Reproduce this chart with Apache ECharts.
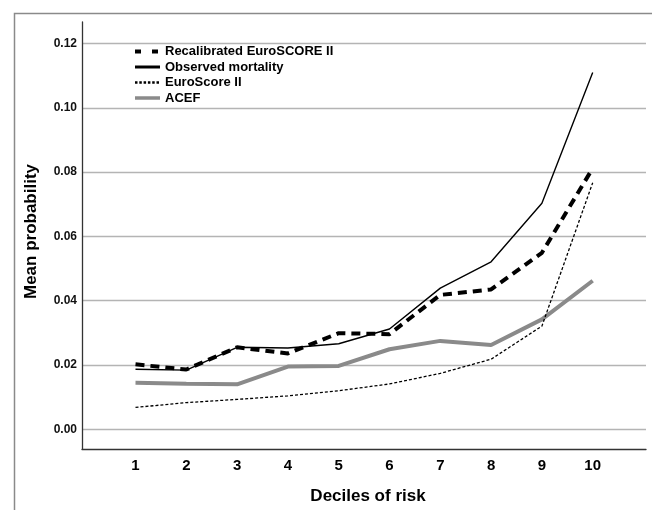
<!DOCTYPE html>
<html>
<head>
<meta charset="utf-8">
<script src="https://cdn.jsdelivr.net/npm/echarts@6/dist/echarts.min.js"></script>
<style>html,body{margin:0;padding:0;background:#fff}#c{width:652px;height:510px}</style>
</head>
<body>
<div id="c"></div>
<script>
const deciles = [1, 2, 3, 4, 5, 6, 7, 8, 9, 10];
const recalibrated = [0.0202, 0.0186, 0.0255, 0.0236, 0.0299, 0.0296, 0.0418, 0.0435, 0.0549, 0.0812];
const observed = [0.0187, 0.0184, 0.0255, 0.0253, 0.0266, 0.0312, 0.0439, 0.0521, 0.0703, 0.1110];
const euroscore = [0.0068, 0.0083, 0.0093, 0.0104, 0.0120, 0.0141, 0.0174, 0.0218, 0.0321, 0.0767];
const acef = [0.0145, 0.0142, 0.0140, 0.0195, 0.0197, 0.0249, 0.0275, 0.0262, 0.0342, 0.0462];
const yTicks = [0.00, 0.02, 0.04, 0.06, 0.08, 0.10, 0.12];
const seriesNames = ['Recalibrated EuroSCORE II', 'Observed mortality', 'EuroScore II', 'ACEF'];

const FONT = '"Liberation Sans", Arial, Helvetica, sans-serif';
const pairs = vals => vals.map((v, i) => [deciles[i], v]);
const hiddenSymbol = {color: 'rgba(0,0,0,0)', borderWidth: 0, opacity: 0};

const chart = echarts.init(document.getElementById('c'), null, {renderer: 'canvas'});
chart.setOption({
  animation: false,
  backgroundColor: '#fff',
  graphic: [{
    type: 'rect', left: 12, top: 11, silent: true,
    shape: {x: 0, y: 0, width: 680, height: 540},
    style: {fill: 'none', stroke: '#8a8a8a', lineWidth: 1.5}
  }],
  grid: [
    {left: 82, right: 6, top: 22, bottom: 60},
    {left: 82, right: 6, top: 43.5, bottom: 80.7},
    {left: 84.7, right: 8.5, top: 43.5, bottom: 80.7}
  ],
  legend: {
    orient: 'vertical', left: 133, top: 45, padding: 0,
    itemWidth: 25, itemHeight: 14, itemGap: 2.5,
    textStyle: {fontFamily: FONT, fontWeight: 'bold', fontSize: 13, color: '#000'},
    data: [
      {name: seriesNames[0], itemStyle: hiddenSymbol, lineStyle: {type: [6, 11], width: 4, color: '#000'}},
      {name: seriesNames[1], itemStyle: hiddenSymbol, lineStyle: {width: 3, color: '#000'}},
      {name: seriesNames[2], itemStyle: hiddenSymbol, lineStyle: {type: [2.5, 1.8], width: 2.5, color: '#000'}},
      {name: seriesNames[3], itemStyle: hiddenSymbol, lineStyle: {width: 3.5, color: '#8a8a8a'}}
    ]
  },
  xAxis: [
    {gridIndex: 0, type: 'value', min: 0, max: 1,
     axisLine: {show: true, lineStyle: {color: '#333', width: 1.3}},
     axisTick: {show: false}, axisLabel: {show: false}, splitLine: {show: false},
     name: 'Deciles of risk', nameLocation: 'middle', nameGap: 39,
     nameTextStyle: {fontFamily: FONT, fontWeight: 'bold', fontSize: 17, color: '#000', padding: [0, 0, 0, 8]}},
    {gridIndex: 1, type: 'value', min: 0, max: 1, show: false},
    {gridIndex: 2, type: 'value', min: 0, max: deciles.length + 1, interval: 1,
     axisLine: {show: false}, axisTick: {show: false}, splitLine: {show: false},
     axisLabel: {margin: 29, fontFamily: FONT, fontWeight: 'bold', fontSize: 15, color: '#000',
       formatter: v => deciles.indexOf(v) >= 0 ? String(v) : ''}}
  ],
  yAxis: [
    {gridIndex: 0, type: 'value', min: 0, max: 1,
     axisLine: {show: true, lineStyle: {color: '#333', width: 1.3}},
     axisTick: {show: false}, axisLabel: {show: false}, splitLine: {show: false},
     name: 'Mean probability', nameLocation: 'middle', nameGap: 42,
     nameTextStyle: {fontFamily: FONT, fontWeight: 'bold', fontSize: 17, color: '#000', padding: [0, 0, 0, 8]}},
    {gridIndex: 1, type: 'value', min: yTicks[0], max: yTicks[yTicks.length - 1], interval: yTicks[1] - yTicks[0],
     axisLine: {show: false}, axisTick: {show: false},
     splitLine: {show: true, lineStyle: {color: '#b4b4b4', width: 1.3}},
     axisLabel: {margin: 5, fontFamily: FONT, fontWeight: 'bold', fontSize: 12, color: '#111',
       formatter: v => v.toFixed(2)}},
    {gridIndex: 2, type: 'value', min: yTicks[0], max: yTicks[yTicks.length - 1], show: false}
  ],
  series: [
    {name: seriesNames[3], type: 'line', xAxisIndex: 2, yAxisIndex: 2, symbol: 'none', showSymbol: false,
     data: pairs(acef), lineStyle: {color: '#8a8a8a', width: 4}, itemStyle: {color: '#8a8a8a'}, z: 2},
    {name: seriesNames[2], type: 'line', xAxisIndex: 2, yAxisIndex: 2, symbol: 'none', showSymbol: false,
     data: pairs(euroscore), lineStyle: {color: '#000', width: 1.3, type: [3, 2]}, itemStyle: {color: '#000'}, z: 3},
    {name: seriesNames[0], type: 'line', xAxisIndex: 2, yAxisIndex: 2, symbol: 'none', showSymbol: false,
     data: pairs(recalibrated), lineStyle: {color: '#000', width: 4, type: [9, 6]}, itemStyle: {color: '#000'}, z: 4},
    {name: seriesNames[1], type: 'line', xAxisIndex: 2, yAxisIndex: 2, symbol: 'none', showSymbol: false,
     data: pairs(observed), lineStyle: {color: '#000', width: 1.4}, itemStyle: {color: '#000'}, z: 5}
  ]
});
</script>
</body>
</html>
